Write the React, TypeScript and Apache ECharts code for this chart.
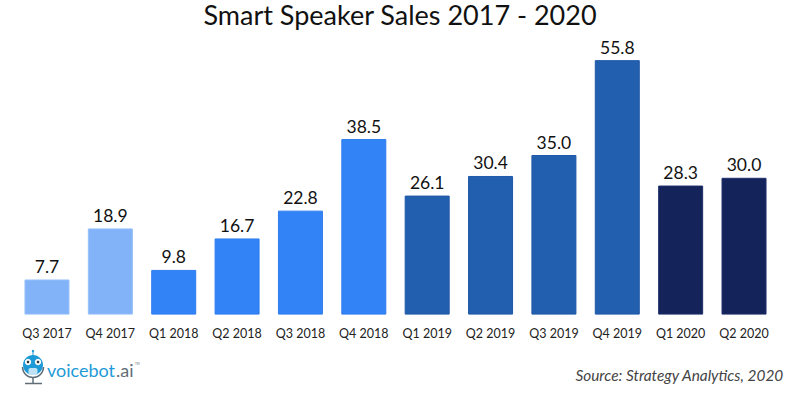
import React, { useEffect, useRef } from "react";
import * as echarts from "echarts";

const categories = ["Q3 2017","Q4 2017","Q1 2018","Q2 2018","Q3 2018","Q4 2018","Q1 2019","Q2 2019","Q3 2019","Q4 2019","Q1 2020","Q2 2020"];
const values = [7.7,18.9,9.8,16.7,22.8,38.5,26.1,30.4,35.0,55.8,28.3,30.0];
const fills = ["#82B3F9","#82B3F9","#3284F6","#3284F6","#3284F6","#3284F6","#235FAF","#235FAF","#235FAF","#235FAF","#14235A","#14235A"];
const borders = ["#95BFFA","#95BFFA","#2F7DEE","#2F7DEE","#2F7DEE","#2F7DEE","#1F58A8","#1F58A8","#1F58A8","#1F58A8","#1E2F6B","#1E2F6B"];

const FONT = "Lato";
const logoBlue = "#1E9AD6";
const logoGrey = "#5F6E78";

export default function App() {
  const ref = useRef<HTMLDivElement>(null);
  useEffect(() => {
    const chart = echarts.init(ref.current!, null, { renderer: "svg" });
    chart.setOption({
      animation: false,
      backgroundColor: "#ffffff",
      title: {
        text: "Smart Speaker Sales 2017 - 2020",
        left: "center",
        top: 3,
        padding: 0,
        textStyle: { fontFamily: FONT, fontSize: 27, fontWeight: 400, color: "#111111", lineHeight: 22 },
      },
      grid: { left: 15.3, right: 24.3, top: 41, height: 273.6 },
      xAxis: {
        type: "category",
        data: categories,
        axisLine: { show: false },
        axisTick: { show: false },
        axisLabel: { fontFamily: FONT, fontSize: 12.5, color: "#222222", margin: 12, interval: 0 },
      },
      yAxis: { type: "value", min: 0, max: 60, show: false, splitLine: { show: false } },
      series: [{
        type: "bar",
        barWidth: 45,
        data: values.map((v, i) => ({
          value: v,
          itemStyle: { color: fills[i], borderColor: borders[i], borderWidth: 1 },
        })),
        label: {
          show: true,
          position: "top",
          distance: 4,
          formatter: (p: any) => p.value.toFixed(1),
          fontFamily: FONT,
          fontSize: 17.5,
          color: "#111111",
        },
      }],
      graphic: [
        { type: "arc", shape: { cx: 33, cy: 367, r: 10.5, startAngle: 0, endAngle: Math.PI }, style: { stroke: logoGrey, lineWidth: 1.5, fill: "none" } },
        { type: "line", shape: { x1: 33, y1: 377, x2: 33, y2: 383 }, style: { stroke: logoGrey, lineWidth: 1.5 } },
        { type: "line", shape: { x1: 25, y1: 383.5, x2: 42, y2: 383.5 }, style: { stroke: logoGrey, lineWidth: 1.5 } },
        { type: "line", shape: { x1: 33, y1: 351, x2: 33, y2: 356 }, style: { stroke: logoBlue, lineWidth: 1 } },
        { type: "circle", shape: { cx: 33, cy: 351, r: 1.2 }, style: { fill: logoBlue } },
        { type: "ellipse", shape: { cx: 33, cy: 365, rx: 10, ry: 10 }, style: { fill: logoBlue } },
        { type: "rect", shape: { x: 28.5, y: 368, width: 9, height: 7, r: 2 }, style: { fill: "#BFE3F5" } },
        { type: "circle", shape: { cx: 28, cy: 362, r: 3.2 }, style: { fill: "#ffffff" } },
        { type: "circle", shape: { cx: 38, cy: 362, r: 3.2 }, style: { fill: "#ffffff" } },
        { type: "circle", shape: { cx: 28, cy: 362, r: 1.3 }, style: { fill: "#333333" } },
        { type: "circle", shape: { cx: 38, cy: 362, r: 1.3 }, style: { fill: "#333333" } },
        { type: "text", x: 47, y: 361, style: { text: "voicebot", fontFamily: FONT, fontSize: 18, fill: logoBlue } },
        { type: "text", x: 116, y: 361, style: { text: ".ai", fontFamily: FONT, fontSize: 18, fill: logoGrey } },
        { type: "text", x: 135, y: 362, style: { text: "TM", fontFamily: FONT, fontSize: 3, fill: logoGrey } },
        { type: "text", right: 16, top: 367, style: { text: "Source: Strategy Analytics, 2020", fontFamily: FONT, fontSize: 15.4, fontStyle: "italic", fill: "#444444" } },
      ],
    });
    return () => chart.dispose();
  }, []);
  return <div ref={ref} style={{ width: 800, height: 394, position: "absolute", left: 0, top: 0 }} />;
}
